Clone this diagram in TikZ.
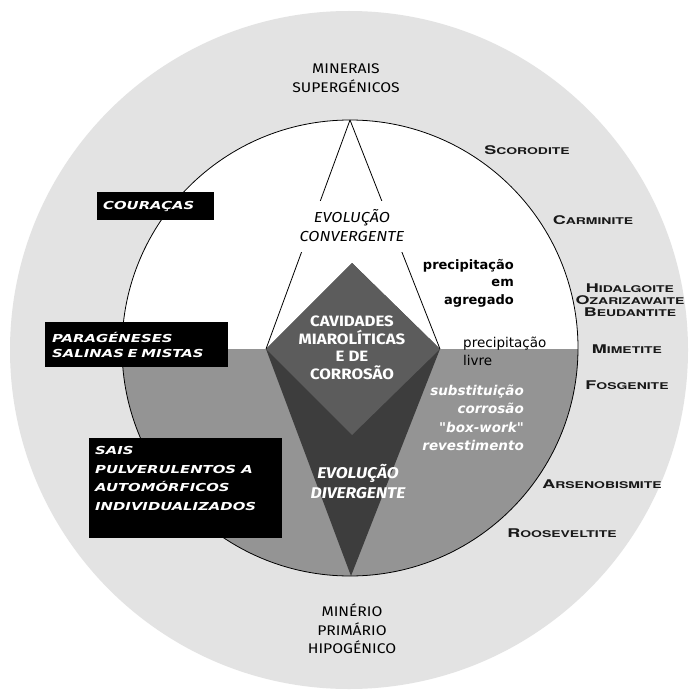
\documentclass[tikz,border=0pt]{standalone}
\usepackage{fontspec}
\setmainfont{Fira Sans}[FakeStretch=1.12]
\newfontfamily\boxfont[FakeStretch=1.35]{DejaVu Sans}
\newfontfamily\labfont{DejaVu Sans}
\newfontfamily\minfont[FakeStretch=1.5]{TeX Gyre Heros}
\newcommand{\mineral}[2]{{\minfont\bfseries\fontsize{12}{13}\selectfont #1\fontsize{9.3}{13}\selectfont #2}}
\definecolor{ringgray}{gray}{0.89}
\definecolor{lowgray}{gray}{0.58}
\definecolor{cavgray}{gray}{0.36}
\definecolor{kitegray}{gray}{0.24}
\begin{document}
\begin{tikzpicture}[x=1pt,y=-1pt,
    orelabel/.style={align=center, font=\fontsize{14}{18.5}\selectfont, inner sep=1pt},
    minlabel/.style={align=center, inner sep=1pt, text=black!90},
    blackbox/.style={fill=black, text=white, anchor=north west, align=left,
      font=\boxfont\bfseries\itshape\fontsize{11}{15}\selectfont}]
    \useasboundingbox (0,0) rectangle (690,690);
    \fill[white] (0,0) rectangle (690,690);

    % rings
    \fill[ringgray] (349,350) circle[radius=339];
    \fill[white] (350,348) circle[radius=228];
    \begin{scope}
        \clip (350,348) circle[radius=228];
        \fill[lowgray] (100,349) rectangle (600,600);
    \end{scope}

    \coordinate (apex) at (350,120);
    \coordinate (bot) at (351,576);
    \coordinate (dl) at (266,349);
    \coordinate (dr) at (440,349);
    \coordinate (dtop) at (352,263);
    \coordinate (dbot) at (352,435);

    \fill[kitegray] (dl) -- (bot) -- (dr) -- (dtop) -- cycle;
    \fill[cavgray] (dtop) -- (dr) -- (dbot) -- (dl) -- cycle;
    \draw[line width=0.8pt] (apex) -- (dl);
    \draw[line width=0.8pt] (apex) -- (dr);
    \draw[line width=0.8pt] (350,348) circle[radius=228];

    \node[fill=white, align=center, inner xsep=1pt, inner ysep=0pt, minimum height=51pt,
      font=\itshape\fontsize{14.5}{19}\selectfont] (conv) at (352,226) {EVOLUÇÃO\\CONVERGENTE};

    \node[orelabel] (supergen) at (346,78) {MINERAIS\\SUPERGÉNICOS};
    \node[orelabel] (hipogen) at (352,629) {MINÉRIO\\PRIMÁRIO\\HIPOGÉNICO};

    \node[align=center, text=white, font=\bfseries\fontsize{15}{17.5}\selectfont] (cavity) at (352,348)
      {CAVIDADES\\MIAROLÍTICAS\\E DE\\CORROSÃO};
    \node[align=center, text=white, font=\bfseries\itshape\fontsize{15.5}{20}\selectfont] (diverg) at (358,482)
      {EVOLUÇÃO\\DIVERGENTE};

    \node[anchor=east, align=right, inner sep=0pt, font=\labfont\bfseries\fontsize{13}{17.5}\selectfont] (aggreg) at (514,283)
      {precipitação\\em\\agregado};
    \node[anchor=west, align=left, inner sep=0pt, font=\labfont\fontsize{13.5}{18}\selectfont] (free) at (463,351)
      {precipitação\\livre};
    \node[anchor=east, align=right, inner sep=0pt, text=white, font=\labfont\bfseries\itshape\fontsize{13.5}{18.5}\selectfont] (replace) at (524,418)
      {substituição\\corrosão\\"box-work"\\revestimento};

    % minerals
    \node[minlabel] (scor) at (527,150) {\mineral{S}{CORODITE}};
    \node[minlabel] (carm) at (593,220) {\mineral{C}{ARMINITE}};
    \node[minlabel] (hidal) at (630,300) {\mineral{H}{IDALGOITE}\\\mineral{O}{ZARIZAWAITE}\\\mineral{B}{EUDANTITE}};
    \node[minlabel] (mime) at (627,349) {\mineral{M}{IMETITE}};
    \node[minlabel] (fosg) at (627,385) {\mineral{F}{OSGENITE}};
    \node[minlabel] (arsen) at (602,484) {\mineral{A}{RSENOBISMITE}};
    \node[minlabel] (roos) at (562,533) {\mineral{R}{OOSEVELTITE}};

    % black boxes
    \node[blackbox, minimum width=117pt, minimum height=28pt, inner xsep=6pt, text width=105pt] (couracas) at (97,192) {COURAÇAS};
    \node[blackbox, minimum width=183pt, minimum height=45pt, inner xsep=7pt, text width=169pt] (paragen) at (45,322) {PARAGÉNESES\\SALINAS E MISTAS};
    \node[blackbox, inner xsep=6pt, inner ysep=8pt] (sais) at (89,438)
      {\parbox[t][84pt][t]{181pt}{\raggedright\fontsize{11}{18.7}\selectfont SAIS\\PULVERULENTOS A\\AUTOMÓRFICOS\\INDIVIDUALIZADOS}};

\end{tikzpicture}
\end{document}
